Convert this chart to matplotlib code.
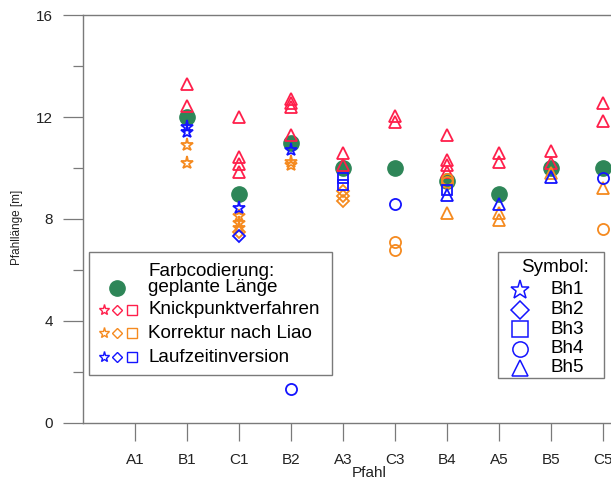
import numpy as np
import matplotlib
matplotlib.use('Agg')
import matplotlib.pyplot as plt
from matplotlib.patches import Rectangle

plt.rcParams['font.family'] = ['Liberation Sans', 'DejaVu Sans']

# ---------------- data ----------------
piles = ['A1', 'B1', 'C1', 'B2', 'A3', 'C3', 'B4', 'A5', 'B5', 'C5']
planned = [np.nan, 12.0, 9.0, 11.0, 10.0, 10.0, 9.5, 9.0, 10.0, 10.0]

# Knickpunktverfahren (red)
knick_pile = ['B1', 'B1', 'C1', 'C1', 'C1', 'C1', 'B2', 'B2', 'B2', 'B2',
              'A3', 'A3', 'C3', 'C3', 'B4', 'B4', 'B4', 'B4', 'A5', 'A5',
              'B5', 'B5', 'C5', 'C5']
knick_bh = ['Bh5'] * 24
knick_val = [13.3, 12.45, 12.0, 10.45, 10.15, 9.85, 12.7, 12.55, 12.4, 11.3,
             10.6, 10.1, 12.05, 11.8, 11.3, 10.3, 10.1, 9.85, 10.6, 10.25,
             10.65, 10.2, 12.55, 11.85]

# Korrektur nach Liao (orange)
liao_pile = ['B1', 'B1', 'C1', 'C1', 'C1', 'C1', 'B2', 'B2', 'A3', 'A3', 'A3',
             'C3', 'C3', 'B4', 'B4', 'B4', 'A5', 'A5', 'B5', 'C5', 'C5']
liao_bh = ['Bh1', 'Bh1', 'Bh1', 'Bh1', 'Bh1', 'Bh2', 'Bh1', 'Bh1', 'Bh2', 'Bh2', 'Bh2',
           'Bh4', 'Bh4', 'Bh4', 'Bh4', 'Bh5', 'Bh5', 'Bh5', 'Bh5', 'Bh5', 'Bh4']
liao_val = [10.9, 10.2, 8.1, 7.85, 7.65, 7.5, 10.25, 10.1, 9.1, 8.9, 8.7,
            7.1, 6.8, 9.55, 9.45, 8.25, 8.25, 7.95, 9.8, 9.2, 7.6]

# Laufzeitinversion (blue)
lauf_pile = ['B1', 'B1', 'C1', 'C1', 'B2', 'B2', 'A3', 'A3', 'C3', 'B4', 'B4',
             'A5', 'B5', 'C5']
lauf_bh = ['Bh1', 'Bh1', 'Bh1', 'Bh2', 'Bh1', 'Bh4', 'Bh3', 'Bh3', 'Bh4', 'Bh3', 'Bh5',
           'Bh5', 'Bh5', 'Bh4']
lauf_val = [11.6, 11.4, 8.45, 7.35, 10.7, 1.35, 9.6, 9.35, 8.6, 9.15, 8.95,
            8.6, 9.65, 9.6]

boreholes = ['Bh1', 'Bh2', 'Bh3', 'Bh4', 'Bh5']

# ---------------- style ----------------
GREEN = '#2e8658'
RED = '#ff1f4b'
ORANGE = '#f58a1f'
BLUE = '#1414ff'
GREY = '#7a7a7a'
marker_of = {'Bh1': '*', 'Bh2': 'D', 'Bh3': 's', 'Bh4': 'o', 'Bh5': '^'}
msize_of = {'Bh1': 9.5, 'Bh2': 6.0, 'Bh3': 7.5, 'Bh4': 8.0, 'Bh5': 8.0}

W, H = 611, 479
fig = plt.figure(figsize=(W / 100, H / 100), dpi=100)
ax = fig.add_axes([83 / W, 56 / H, 52 * 11 / W, 408 / H])
ax.set_xlim(0, 11)
ax.set_ylim(0, 16)

xpos = {p: i + 1 for i, p in enumerate(piles)}

ax.plot([xpos[p] for p in piles], planned, ls='none', marker='o', ms=11,
        mfc=GREEN, mec=GREEN, zorder=2)

for pile_l, bh_l, val_l, col in [(knick_pile, knick_bh, knick_val, RED),
                                 (liao_pile, liao_bh, liao_val, ORANGE),
                                 (lauf_pile, lauf_bh, lauf_val, BLUE)]:
    for bh in boreholes:
        xs = [xpos[p] for p, b in zip(pile_l, bh_l) if b == bh]
        ys = [v for v, b in zip(val_l, bh_l) if b == bh]
        if xs:
            ax.plot(xs, ys, ls='none', marker=marker_of[bh], ms=msize_of[bh],
                    mfc='none', mec=col, mew=1.3, zorder=3)

ax.set_xticks(range(1, len(piles) + 1))
ax.set_xticklabels(piles)
ax.set_yticks([0, 4, 8, 12, 16])
ax.set_yticks([2, 6, 10, 14], minor=True)
ax.tick_params(axis='y', which='major', direction='out', length=14.4, width=0.9,
               color=GREY, pad=7, labelsize=11, labelcolor='#222222')
ax.tick_params(axis='y', which='minor', direction='out', length=7.2, width=0.9,
               color=GREY)
ax.tick_params(axis='x', which='major', direction='out', length=13, width=0.9,
               color=GREY, pad=8.5, labelsize=11, labelcolor='#222222')
for s in ax.spines.values():
    s.set_color(GREY)
    s.set_linewidth(1.0)

ax.set_xlabel('Pfahl', fontsize=11, color='#222222')
ax.xaxis.set_label_coords(0.5, -0.1225)
ax.xaxis.label.set_va('center')
ax.set_ylabel('Pfahllänge [m]', fontsize=8.5, color='#222222')
ax.yaxis.set_label_coords(-0.115, 0.48)
ax.yaxis.label.set_va('center')

# ---------------- legends (overlay in pixel coordinates) ----------------
ov = fig.add_axes([0, 0, 1, 1], zorder=10)
ov.set_xlim(0, W)
ov.set_ylim(H, 0)
ov.axis('off')
ov.patch.set_alpha(0)

fs = 13.6
ov.add_patch(Rectangle((89, 252), 243, 123, fc='white', ec=GREY, lw=1.0))
ov.text(148, 271, 'Farbcodierung:', fontsize=fs, va='center', ha='left')
ov.plot([117], [288], ls='none', marker='o', ms=11, mfc=GREEN, mec=GREEN)
ov.text(148, 288, 'geplante Länge', fontsize=fs, va='center', ha='left')
method_names = ['Knickpunktverfahren', 'Korrektur nach Liao', 'Laufzeitinversion']
for name, col, yy in zip(method_names, [RED, ORANGE, BLUE], [310, 333, 357]):
    ov.plot([104], [yy], ls='none', marker='*', ms=8, mfc='none', mec=col, mew=1.0)
    ov.plot([117], [yy], ls='none', marker='D', ms=5.5, mfc='none', mec=col, mew=1.0)
    ov.plot([132], [yy], ls='none', marker='s', ms=7, mfc='none', mec=col, mew=1.0)
    ov.text(148, yy, name, fontsize=fs, va='center', ha='left')

ov.add_patch(Rectangle((498, 252), 106, 126, fc='white', ec=GREY, lw=1.0))
ov.text(521, 268, 'Symbol:', fontsize=fs, va='center', ha='left')
leg_ms = {'Bh1': 14, 'Bh2': 9.5, 'Bh3': 11, 'Bh4': 11, 'Bh5': 11}
for i, bh in enumerate(boreholes):
    yy = 290 + i * 19.5
    ov.plot([520], [yy], ls='none', marker=marker_of[bh], ms=leg_ms[bh],
            mfc='none', mec=BLUE, mew=1.1)
    ov.text(550, yy, bh, fontsize=fs, va='center', ha='left')

fig.savefig('out.png', dpi=100)
